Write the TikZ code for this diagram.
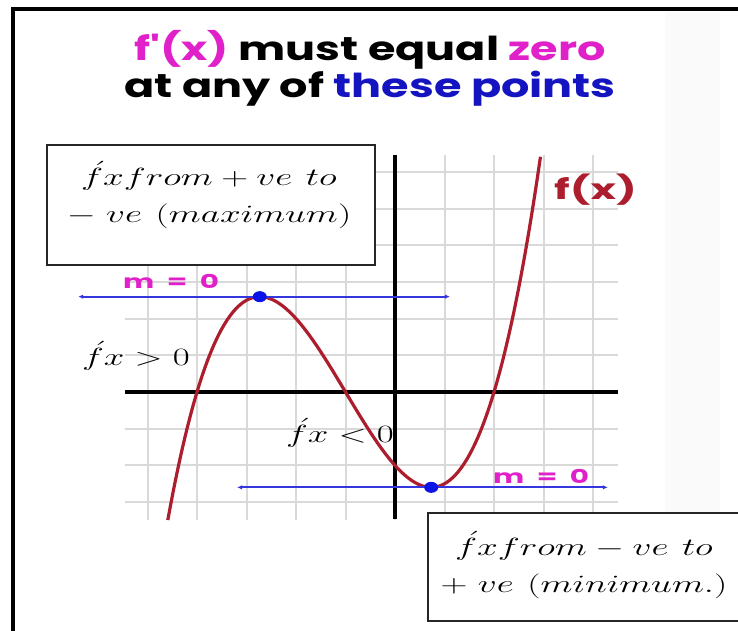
\documentclass[tikz,border=0pt]{standalone}
\usepackage{fontspec}
\usepackage{amsmath}
\usepackage{graphicx}
\newfontfamily\titlefont{Poppins}
\usetikzlibrary{arrows.meta}
\newcommand\xwide[2][1.35]{\scalebox{#1}[1]{#2}}
\definecolor{curvered}{HTML}{AC1E2E}
\definecolor{tanblue}{HTML}{3636E0}
\definecolor{ptblue}{HTML}{0A14E6}
\definecolor{mag}{HTML}{E020C8}
\definecolor{titleblue}{HTML}{1414C0}
\definecolor{gridgray}{HTML}{D9D9D9}
\tikzset{
  gridline/.style={draw=gridgray, line width=2pt},
  axisline/.style={draw=black, line width=3.2pt},
  fcurve/.style={draw=curvered, line width=3.2pt},
  tangent/.style={draw=tanblue, line width=2pt, {Latex[length=5pt,width=4.5pt]}-{Latex[length=5pt,width=4.5pt]}},
  mathbox/.style={draw=black!85, line width=1.8pt, fill=white, inner sep=0pt},
  boxtext/.style={align=center, inner sep=0pt, font=\fontsize{30}{37}\selectfont},
  mathlbl/.style={inner sep=0pt, font=\fontsize{30}{34}\selectfont},
  slopelbl/.style={inner sep=0pt, text=mag, font=\titlefont\bfseries\fontsize{19}{22}\selectfont},
}
\begin{document}
\begin{tikzpicture}[x=1pt,y=-1pt]
\useasboundingbox (0,0) rectangle (738,631);
\clip (0,0) rectangle (738,631);
\fill[white] (0,0) rectangle (738,631);
\fill[black!2] (665,12) rectangle (720,545);

% title
\node[align=center, inner sep=0pt, font=\titlefont\bfseries\fontsize{33}{37}\selectfont] (title) at (370,68)
  {\xwide{\textcolor{mag}{f'(x)} must equal \textcolor{mag}{zero}}\\ \xwide{at any of \textcolor{titleblue}{these points}}};

% graph
\begin{scope}[shift={(395,392)},x=49.5pt,y=36.7pt]
  \foreach \k in {-5,...,4} \draw[gridline] (\k,-3.48) -- (\k,6.45);
  \foreach \k in {-3,...,6} \draw[gridline] (-5.45,\k) -- (4.5,\k);
  \coordinate (xl) at (-5.45,0);
  \coordinate (xr) at (4.5,0);
  \coordinate (yb) at (0,-3.45);
  \coordinate (yt) at (0,6.45);
  \draw[axisline] (xl) -- (xr);
  \draw[axisline] (yb) -- (yt);
  \draw[fcurve] plot[domain=-4.59:2.94, samples=120, smooth] (\x,{0.25*(\x*\x*\x+3*\x*\x-6*\x-8)});
  \coordinate (maxpt) at (-2.732,2.598);
  \coordinate (minpt) at (0.732,-2.598);
  \coordinate (t1l) at (-6.40,2.598);
  \coordinate (t1r) at (1.11,2.598);
  \coordinate (t2l) at (-3.19,-2.598);
  \coordinate (t2r) at (4.30,-2.598);
  \draw[tangent] (t1l) -- (t1r);
  \draw[tangent] (t2l) -- (t2r);
  \fill[ptblue] (maxpt) ellipse [x radius=7pt, y radius=5.5pt];
  \fill[ptblue] (minpt) ellipse [x radius=7pt, y radius=5.5pt];
\end{scope}

\node[slopelbl, anchor=base west] (m1) at (123,288) {\xwide[1.55]{m~~=~~0}};
\node[slopelbl, anchor=base west] (m2) at (493,483) {\xwide[1.55]{m~~=~~0}};
\node[inner sep=0pt, anchor=base west, text=curvered, font=\titlefont\bfseries\fontsize{28}{30}\selectfont] (flbl) at (554,199) {\xwide[1.55]{f(x)}};

\node[mathlbl, anchor=base west] (gpos) at (82,365) {\xwide[1.48]{$\acute{f}x > 0$}};
\node[mathlbl, anchor=base west] (gneg) at (286,442) {\xwide[1.48]{$\acute{f}x < 0$}};

\node[mathbox, minimum width=328pt, minimum height=120pt] (maxbox) at (211,205) {};
\node[boxtext] (maxtxt) at (209,195)
  {\xwide[1.5]{$\acute{f}x from + ve\ to$}\\ \xwide[1.5]{$-\;ve\ (maximum)$}};
\node[mathbox, minimum width=314pt, minimum height=108pt] (minbox) at (585,567) {};
\node[boxtext] (mintxt) at (584,565)
  {\xwide[1.5]{$\acute{f}x from - ve\ to$}\\ \xwide[1.5]{$+\;ve\ (minimum.)$}};

% frame
\draw[line width=3.5pt] (13,9) rectangle (760,660);
\end{tikzpicture}
\end{document}
